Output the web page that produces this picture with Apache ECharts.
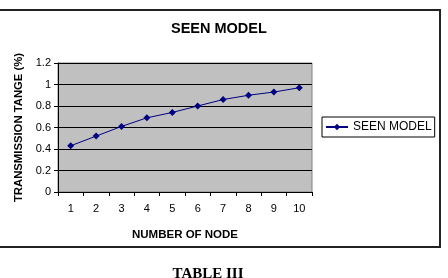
<!DOCTYPE html>
<html><head><meta charset="utf-8">
<script src="https://cdn.jsdelivr.net/npm/echarts@6/dist/echarts.min.js"></script>
<style>html,body{margin:0;padding:0;background:#fff}#c{width:448px;height:278px}</style>
</head><body><div id="c"></div>
<script>
const categories = ['1','2','3','4','5','6','7','8','9','10'];
const seenModel = [0.43, 0.52, 0.61, 0.69, 0.74, 0.80, 0.86, 0.90, 0.93, 0.97];
const seriesName = 'SEEN MODEL';
const chart = echarts.init(document.getElementById('c'), null, {renderer:'canvas'});
const F = 'Arial, "Liberation Sans", sans-serif';
chart.setOption({
  animation:false,
  backgroundColor:'#fff',
  title:{text:'SEEN MODEL', left:171, top:21, padding:0,
    textStyle:{fontFamily:F, fontSize:14.5, fontWeight:'bold', color:'#000'}},
  grid:{left:58, right:136, top:63, bottom:86, show:true, backgroundColor:'#c0c0c0', borderColor:'#808080', borderWidth:1},
  legend:{left:322, top:117, itemWidth:22, itemHeight:8, itemGap:4, padding:[4,3,4,3], borderColor:'#000', borderWidth:1,
    textStyle:{fontFamily:F, fontSize:12, color:'#000'}, data:[seriesName]},
  xAxis:{type:'category', data:categories, boundaryGap:true,
    name:'NUMBER OF NODE', nameLocation:'middle', nameGap:37,
    nameTextStyle:{fontFamily:F, fontSize:11.5, fontWeight:'bold', color:'#000'},
    axisLine:{lineStyle:{color:'#000', width:1}},
    axisTick:{show:true, length:4, lineStyle:{color:'#000'}},
    axisLabel:{fontFamily:F, fontSize:11, color:'#000', margin:11},
    splitLine:{show:false}},
  yAxis:{type:'value', min:0, max:1.2, interval:0.2,
    name:'TRANSMISSION TANGE (%)', nameLocation:'middle', nameGap:32, nameRotate:90,
    nameTextStyle:{fontFamily:F, fontSize:11.3, fontWeight:'bold', color:'#000'},
    axisLine:{show:true, lineStyle:{color:'#000', width:1}},
    axisTick:{show:true, length:4, inside:false, lineStyle:{color:'#000'}},
    axisLabel:{fontFamily:F, fontSize:11, color:'#000', margin:7,
      formatter:v=>String(Math.round(v*10)/10)},
    splitLine:{show:true, lineStyle:{color:'#000', width:1}}},
  series:[{name:seriesName, type:'line', data:seenModel, symbol:'diamond', symbolSize:7,
    lineStyle:{color:'#000080', width:1}, itemStyle:{color:'#000080'}}],
  graphic:[
    {type:'rect', shape:{x:-1, y:10, width:441, height:237}, style:{fill:'none', stroke:'#222', lineWidth:2}, silent:true},
    {type:'text', x:208, y:267, style:{text:'TABLE III', textAlign:'center', font:'bold 15px "Liberation Serif", "Times New Roman", serif', fill:'#000'}}
  ]
});
</script></body></html>
